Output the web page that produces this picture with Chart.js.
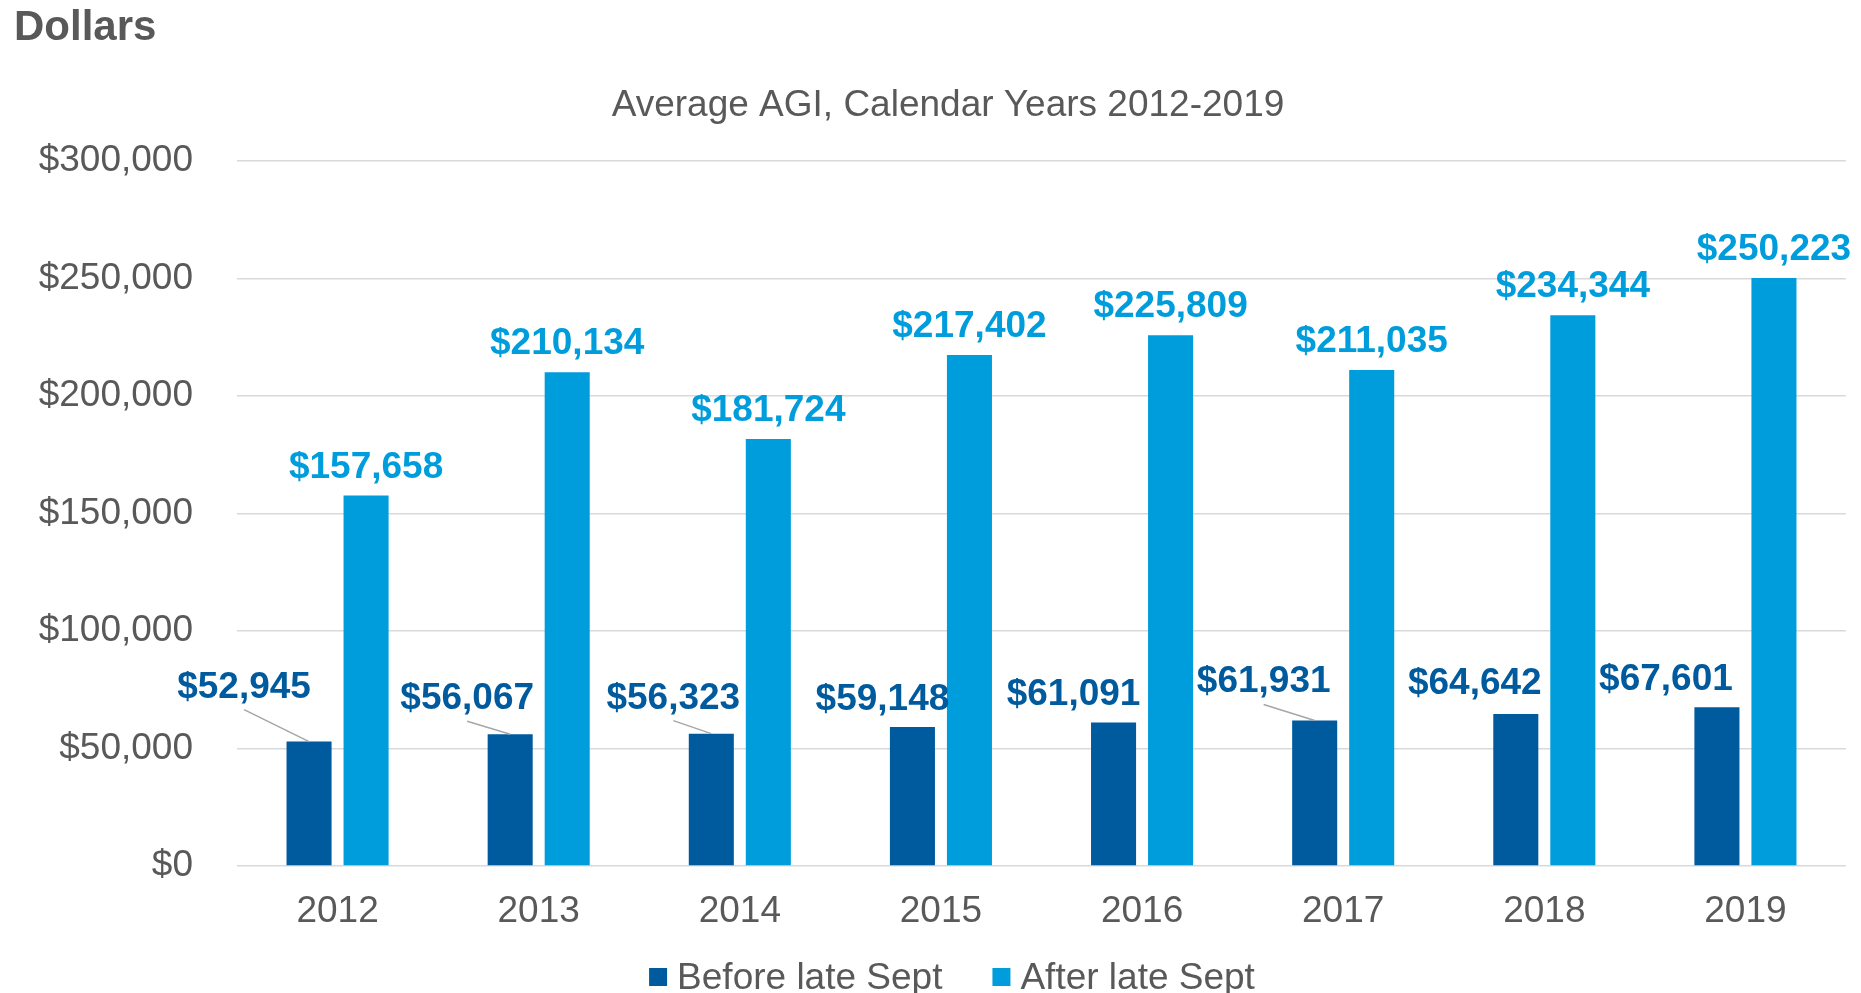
<!DOCTYPE html>
<html>
<head>
<meta charset="utf-8">
<title>Average AGI</title>
<script src="https://cdn.jsdelivr.net/npm/chart.js@4.4.1/dist/chart.umd.min.js"></script>
<style>
  html, body { margin: 0; padding: 0; background: #fff; }
</style>
</head>
<body>
<canvas id="chart" width="1861" height="993"></canvas>
<script>
// values
const years = ['2012', '2013', '2014', '2015', '2016', '2017', '2018', '2019'];
const beforeLateSept = [52945, 56067, 56323, 59148, 61091, 61931, 64642, 67601];
const afterLateSept = [157658, 210134, 181724, 217402, 225809, 211035, 234344, 250223];
const seriesNames = ['Before late Sept', 'After late Sept'];
const chartTitle = 'Average AGI, Calendar Years 2012-2019';
const unitLabel = 'Dollars';

// where the dark labels were dragged to in the original (dx, dy from bar top, leader line?)
const beforeLabelShift = [
  [-65, -44, true], [-43, -25, true], [-38, -25, true], [-30, -17, false],
  [-40, -17, false], [-51, -28, true], [-41, -20, false], [-51, -17, false]
];

const DARK = '#005a9e';
const LIGHT = '#009ddc';
const GREY = '#595959';
const FONT = '"Liberation Sans", Arial, sans-serif';

const money = v => '$' + Number(v).toLocaleString('en-US');

const valueLabels = {
  id: 'valueLabels',
  afterDatasetsDraw(chart) {
    const ctx = chart.ctx;
    ctx.save();
    ctx.font = 'bold 37px ' + FONT;
    ctx.textAlign = 'center';
    ctx.textBaseline = 'alphabetic';

    chart.getDatasetMeta(1).data.forEach((bar, i) => {
      ctx.fillStyle = LIGHT;
      ctx.fillText(money(afterLateSept[i]), bar.x, bar.y - 18);
    });

    chart.getDatasetMeta(0).data.forEach((bar, i) => {
      const [dx, dy, leader] = beforeLabelShift[i];
      const lx = bar.x + dx;
      const ly = bar.y + dy;
      if (leader) {
        ctx.strokeStyle = '#a6a6a6';
        ctx.lineWidth = 1.5;
        ctx.beginPath();
        ctx.moveTo(lx, ly + 12);
        ctx.lineTo(bar.x, bar.y);
        ctx.stroke();
      }
      ctx.fillStyle = DARK;
      ctx.fillText(money(beforeLateSept[i]), lx, ly);
    });
    ctx.restore();
  }
};

// heading, title and the legend underneath
const frame = {
  id: 'frame',
  afterDraw(chart) {
    const ctx = chart.ctx;
    ctx.save();
    ctx.fillStyle = GREY;
    ctx.textBaseline = 'alphabetic';

    ctx.font = 'bold 42px ' + FONT;
    ctx.textAlign = 'left';
    ctx.fillText(unitLabel, 14, 40);

    ctx.font = '37px ' + FONT;
    ctx.textAlign = 'center';
    ctx.fillText(chartTitle, 948, 116);

    ctx.textAlign = 'left';
    const colors = [DARK, LIGHT];
    const widths = seriesNames.map(n => ctx.measureText(n).width);
    const total = widths.reduce((a, w) => a + 18 + 10 + w, 0) + 50;
    let x = 952 - total / 2;
    seriesNames.forEach((name, i) => {
      ctx.fillStyle = colors[i];
      ctx.fillRect(x, 968, 18, 18);
      ctx.fillStyle = GREY;
      ctx.fillText(name, x + 28, 989);
      x += 28 + widths[i] + 50;
    });
    ctx.restore();
  }
};

new Chart(document.getElementById('chart'), {
  type: 'bar',
  data: {
    labels: years,
    datasets: [{
      label: seriesNames[0],
      data: beforeLateSept,
      backgroundColor: DARK,
      categoryPercentage: 0.567,
      barPercentage: 0.79,
    }, {
      label: seriesNames[1],
      data: afterLateSept,
      backgroundColor: LIGHT,
      categoryPercentage: 0.567,
      barPercentage: 0.79,
    }]
  },
  options: {
    responsive: false,
    animation: false,
    devicePixelRatio: 1,
    layout: { padding: { top: 161, right: 15, left: 0, bottom: 0 } },
    plugins: {
      legend: { display: false },
      tooltip: { enabled: false },
    },
    scales: {
      x: {
        grid: { display: false, drawTicks: false },
        border: { display: false },
        ticks: { color: GREY, font: { family: FONT, size: 37 }, padding: 24 },
        afterFit(scale) { scale.height = 127; },
      },
      y: {
        min: 0,
        max: 300000,
        grid: { color: '#d9d9d9', lineWidth: 1.5, drawTicks: false },
        border: { display: false },
        ticks: {
          stepSize: 50000,
          color: GREY,
          font: { family: FONT, size: 37 },
          padding: 44,
          callback: v => money(v),
        },
        afterFit(scale) { scale.width = 237; },
      }
    }
  },
  plugins: [valueLabels, frame]
});
</script>
</body>
</html>
